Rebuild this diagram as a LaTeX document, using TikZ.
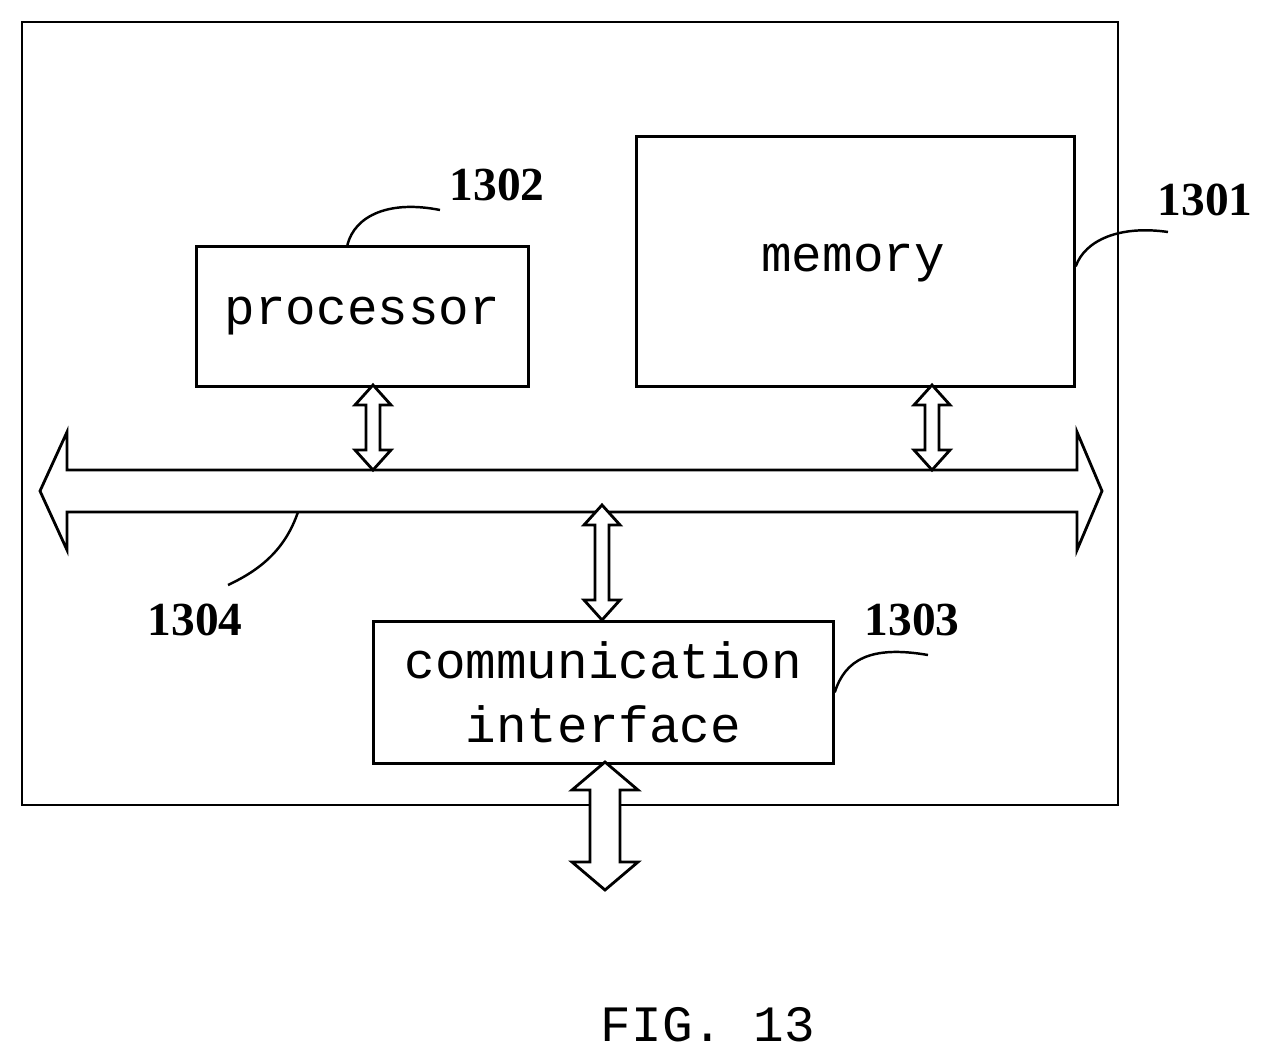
\documentclass[tikz,border=0pt]{standalone}
\usepackage{fontspec}
\setmainfont{Liberation Serif}
\setmonofont{Liberation Mono}
\usetikzlibrary{positioning}
% hollow vertical double arrow: x, top y, bottom y, shaft half, head half, head length
\newcommand{\hollowarrow}[6]{%
  \draw[fill=white] (#1-#4,#2+#6) -- (#1-#5,#2+#6) -- (#1,#2) -- (#1+#5,#2+#6) -- (#1+#4,#2+#6)
    -- (#1+#4,#3-#6) -- (#1+#5,#3-#6) -- (#1,#3) -- (#1-#5,#3-#6) -- (#1-#4,#3-#6) -- cycle;}
\begin{document}
\begin{tikzpicture}[x=0.02cm, y=-0.02cm, line width=1.6pt,
    block/.style={draw, inner sep=0pt, font=\ttfamily\fontsize{29}{36}\selectfont},
    num/.style={font=\fontsize{27}{30}\selectfont\bfseries},
    leader/.style={line width=1.4pt}]
    \useasboundingbox (0,0) rectangle (1273,1060);
    \draw (22,22) rectangle (1118,805);

    \node[block, anchor=north west, minimum width=6.64cm, minimum height=2.8cm] (proc) at (195,245) {processor};
    \node[block, anchor=north west, minimum width=8.76cm, minimum height=5cm] (mem) at (635,135) {};
    \node[font=\ttfamily\fontsize{29}{36}\selectfont] (memtext) at (853,263) {memory};
    \node[block, anchor=north west, minimum width=9.2cm, minimum height=2.84cm, align=center] (comm) at (372,620) {communication\\interface};

    % bus
    \draw[fill=white] (67,470) -- (67,432) -- (40,491) -- (67,550) -- (67,512) -- (1077,512)
        -- (1077,550) -- (1102,491) -- (1077,432) -- (1077,470) -- cycle;
    \hollowarrow{373}{385}{470}{7}{18}{20}
    \hollowarrow{932}{385}{470}{7}{18}{20}
    \hollowarrow{602}{505}{620}{7}{18}{20}
    \hollowarrow{605}{762}{890}{15}{33}{28}

    % labels
    \node[num] (l1302) at (497,185) {1302};
    \node[num] (l1301) at (1205,200) {1301};
    \node[num] (l1304) at (195,620) {1304};
    \node[num] (l1303) at (912,620) {1303};
    \coordinate (bus) at (298,512);
    \draw[leader] (proc.north) ++(-15,0) .. controls (355,215) and (390,200) .. (440,210);
    \draw[leader] (mem.east) ++(0,5) .. controls (1085,240) and (1120,225) .. (1168,232);
    \draw[leader] (bus) .. controls (285,550) and (260,570) .. (228,585);
    \draw[leader] (comm.east) .. controls (845,660) and (870,645) .. (928,655);

    \node[font=\ttfamily\fontsize{29}{36}\selectfont] (fig) at (708,1025) {FIG. 13};
\end{tikzpicture}
\end{document}
